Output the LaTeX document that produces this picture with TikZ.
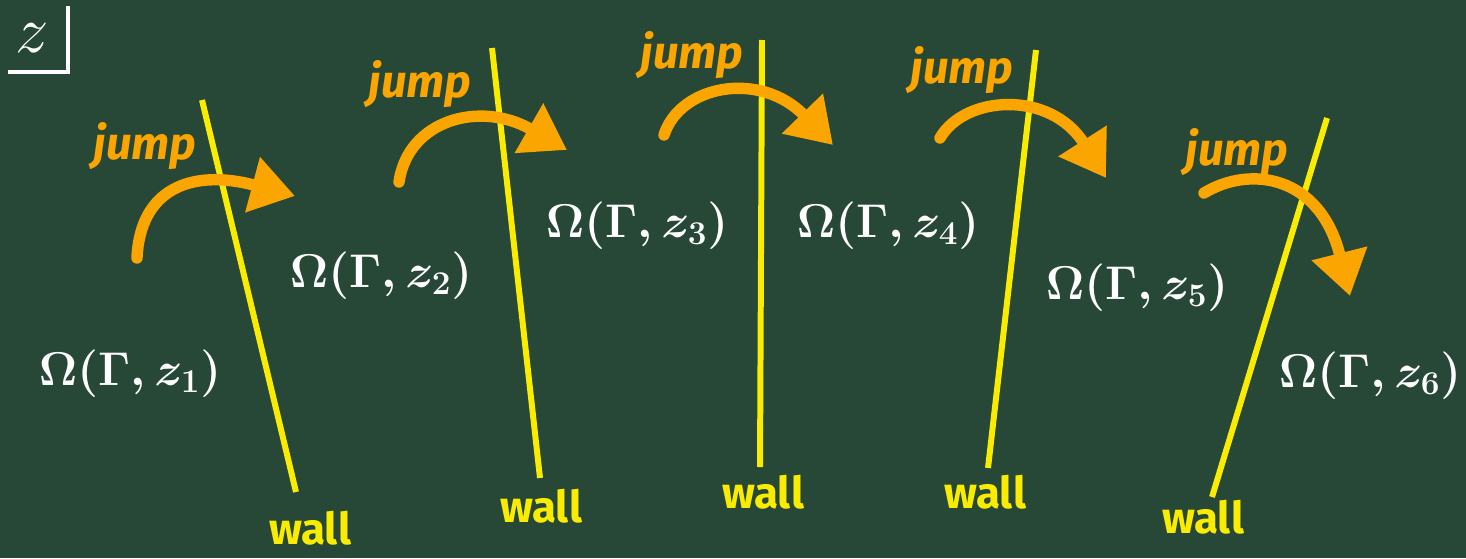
\documentclass[tikz,border=0pt]{standalone}
\usepackage{fix-cm}
\usepackage{fontspec}
\usepackage{amsmath}
\usetikzlibrary{arrows.meta}
\newfontfamily\chalkfont{Fira Sans}
\definecolor{board}{RGB}{40,72,55}
\definecolor{chalkorange}{RGB}{250,165,0}
\definecolor{chalkyellow}{RGB}{250,236,0}

\begin{document}
\begin{tikzpicture}[x=0.02cm,y=-0.02cm,
    wallline/.style={chalkyellow,line width=3.4pt},
    walltext/.style={chalkyellow,font=\chalkfont\bfseries\fontsize{25}{28}\selectfont},
    jumptext/.style={chalkorange,font=\chalkfont\bfseries\itshape\fontsize{26}{30}\selectfont},
    jumparrow/.style={chalkorange,line width=6.5pt,line cap=round,
      -{Triangle[length=25pt,width=31pt]}},
    region/.style={white,font=\fontsize{27}{30}\selectfont\boldmath}]
    % board
    \fill[board] (0,0) rectangle (1466,558);
    \useasboundingbox (0,0) rectangle (1466,558);

    % corner box
    \node[white,font=\fontsize{38}{42}\selectfont] (zbox) at (32,38) {$z$};
    \draw[white,line width=2.6pt] (68,6) -- (68,72) -- (8,72);

    % walls
    \coordinate (w1a) at (202,100);  \coordinate (w1b) at (296,492);
    \coordinate (w2a) at (492,48);   \coordinate (w2b) at (540,478);
    \coordinate (w3a) at (762,40);   \coordinate (w3b) at (760,467);
    \coordinate (w4a) at (1036,50);  \coordinate (w4b) at (988,468);
    \coordinate (w5a) at (1327,118); \coordinate (w5b) at (1212,497);
    \draw[wallline] (w1a) -- (w1b);
    \draw[wallline] (w2a) -- (w2b);
    \draw[wallline] (w3a) -- (w3b);
    \draw[wallline] (w4a) -- (w4b);
    \draw[wallline] (w5a) -- (w5b);

    \node[walltext] (wall1) at (310,528) {wall};
    \node[walltext] (wall2) at (541,506) {wall};
    \node[walltext] (wall3) at (763,492) {wall};
    \node[walltext] (wall4) at (985,492) {wall};
    \node[walltext] (wall5) at (1203,517) {wall};

    % regions
    \node[region] (omega1) at (130,374) {$\Omega(\Gamma,z_1)$};
    \node[region] (omega2) at (381,276) {$\Omega(\Gamma,z_2)$};
    \node[region] (omega3) at (637,226) {$\Omega(\Gamma,z_3)$};
    \node[region] (omega4) at (888,226) {$\Omega(\Gamma,z_4)$};
    \node[region] (omega5) at (1137,288) {$\Omega(\Gamma,z_5)$};
    \node[region] (omega6) at (1370,376) {$\Omega(\Gamma,z_6)$};

    % jumps
    \node[jumptext] (jump1) at (145,146) {jump};
    \node[jumptext] (jump2) at (420,84) {jump};
    \node[jumptext] (jump3) at (692,55) {jump};
    \node[jumptext] (jump4) at (962,70) {jump};
    \node[jumptext] (jump5) at (1237,152) {jump};

    \coordinate (js1) at (137,258);  \coordinate (je1) at (295,196);
    \coordinate (js2) at (399,182);  \coordinate (je2) at (567,150);
    \coordinate (js3) at (664,135);  \coordinate (je3) at (833,145);
    \coordinate (js4) at (940,138);  \coordinate (je4) at (1106,178);
    \coordinate (js5) at (1204,193); \coordinate (je5) at (1350,296);
    \draw[jumparrow] (js1) .. controls (140,190) and (190,168) .. (je1);
    \draw[jumparrow] (js2) .. controls (408,120) and (480,100) .. (je2);
    \draw[jumparrow] (js3) .. controls (680,85) and (760,70) .. (je3);
    \draw[jumparrow] (js4) .. controls (965,95) and (1050,90) .. (je4);
    \draw[jumparrow] (js5) .. controls (1250,165) and (1320,175) .. (je5);
  \end{tikzpicture}
\end{document}
